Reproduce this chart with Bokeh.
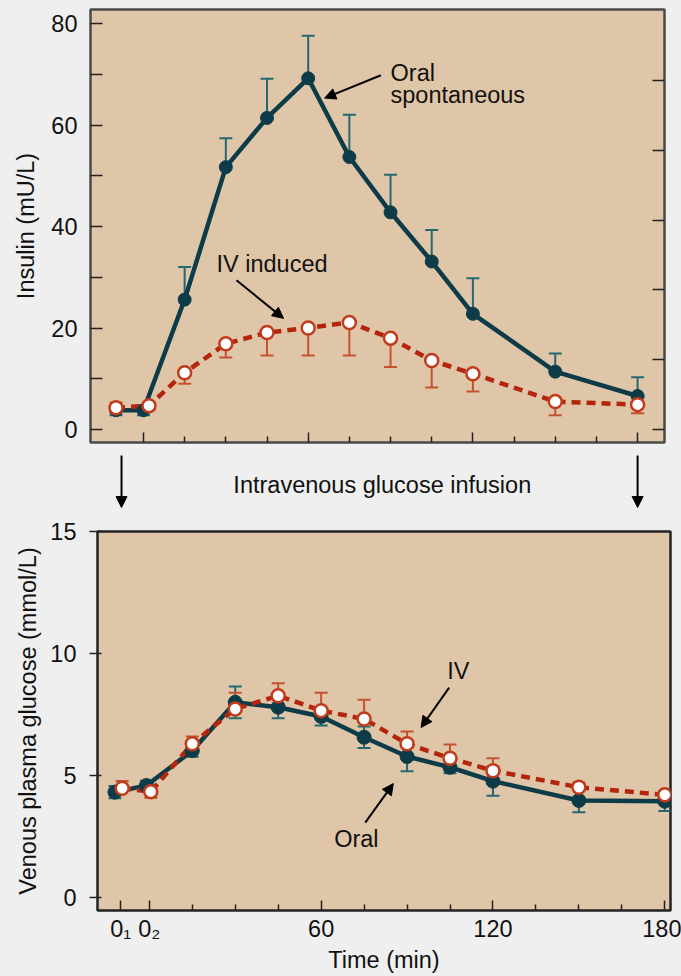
from jinja2 import Template
from bokeh.plotting import figure
from bokeh.models import Range1d, FixedTicker, LinearAxis, Arrow, NormalHead
from bokeh.embed import file_html
from bokeh.resources import INLINE
from bokeh.core.properties import value

# ---------------- data ----------------
# top panel: insulin (mU/L)
t_oral_ins = [-10, 0, 15, 30, 45, 60, 75, 90, 105, 120, 150, 180]
ins_oral = [3.8, 3.8, 25.6, 51.7, 61.4, 69.2, 53.7, 42.8, 33.1, 22.8, 11.4, 6.6]
ins_oral_hi = [0, 0, 6.4, 5.7, 7.7, 8.4, 8.3, 7.4, 6.2, 7.0, 3.6, 3.7]
ins_oral_lo = [1.0, 1.0, 0, 0, 0, 0, 0, 0, 0, 0, 0, 0]

t_iv_ins = [-10, 2, 15, 30, 45, 60, 75, 90, 105, 120, 150, 180]
ins_iv = [4.3, 4.7, 11.2, 16.9, 19.1, 20.0, 21.1, 18.0, 13.6, 11.0, 5.5, 4.9]
ins_iv_hi = [1.0, 0.6, 0, 0, 0, 0, 0, 0, 0, 0, 0, 0]
ins_iv_lo = [0.8, 0.8, 2.2, 2.7, 4.5, 5.4, 6.5, 5.7, 5.3, 3.5, 2.7, 1.7]

# bottom panel: venous plasma glucose (mmol/L)
t_oral_glu = [-12, -1, 15, 30, 45, 60, 75, 90, 105, 120, 150, 180]
glu_oral = [4.32, 4.59, 6.02, 8.0, 7.8, 7.42, 6.57, 5.78, 5.34, 4.77, 3.98, 3.95]
glu_oral_err = [0.25, 0.2, 0.25, 0.65, 0.45, 0.37, 0.44, 0.6, 0.25, 0.6, 0.48, 0.4]

t_iv_glu = [-9.5, 0.5, 15, 30, 45, 60, 75, 90, 105, 120, 150, 180]
glu_iv = [4.48, 4.34, 6.3, 7.73, 8.27, 7.66, 7.32, 6.3, 5.71, 5.2, 4.52, 4.21]
glu_iv_hi = [0.3, 0, 0.3, 0.66, 0.51, 0.73, 0.79, 0.5, 0.56, 0.51, 0.2, 0.17]
glu_iv_lo = [0, 0.25, 0, 0, 0, 0, 0, 0, 0, 0, 0, 0]

# axis ticks
ins_ticks = [0, 20, 40, 60, 80]
ins_minor = [10, 30, 50, 70]
ins_right_ticks = [0, 13.75, 27.5, 41.25, 55.0, 68.75]
glu_ticks = [0, 5, 10, 15]
time_major_top = [0, 60, 120, 180]
time_minor = [15, 30, 45, 75, 90, 105, 135, 150, 165]
time_major_bot = [-10, 0, 60, 120, 180]
time_labels = {-10: "0\u2081", 0: "0\u2082", 60: "60", 120: "120", 180: "180"}

infusion_times = [-8, 180]

# ---------------- style ----------------
FONT = "Liberation Sans"
FS = "23.5px"
BG = "#e0c6a8"
PAGE = "#efefef"
ORAL = "#0d3c48"
ORAL_ERR = "#24696f"
IV = "#b3250c"
IV_MK = "#c03c1c"
IV_ERR = "#c45230"
OUTLINE = "#4a4a4a"


def errbars(p, x, y, lo, hi, color):
    x0, y0, y1, cx, cy = [], [], [], [], []
    for xi, yi, l, h in zip(x, y, lo, hi):
        if l > 0 or h > 0:
            x0.append(xi)
            y0.append(yi - l)
            y1.append(yi + h)
        if h > 0:
            cx.append(xi)
            cy.append(yi + h)
        if l > 0:
            cx.append(xi)
            cy.append(yi - l)
    p.segment(x0=x0, y0=y0, x1=x0, y1=y1, line_color=color, line_width=2)
    p.scatter(x=cx, y=cy, marker="dash", size=13, line_color=color, line_width=2)


def style_axis(ax):
    ax.axis_line_color = None
    ax.major_tick_line_color = "#222222"
    ax.minor_tick_line_color = "#222222"
    ax.major_tick_line_width = 1.5
    ax.minor_tick_line_width = 1.5
    ax.major_label_text_font = FONT
    ax.major_label_text_font_size = FS
    ax.major_label_text_color = "#111111"
    ax.axis_label_text_font = FONT
    ax.axis_label_text_font_size = FS
    ax.axis_label_text_font_style = "normal"
    ax.axis_label_text_color = "#111111"


def hide_labels(ax):
    ax.major_label_text_color = None
    ax.major_label_text_font_size = "1px"
    ax.major_label_standoff = 0


def add_text(p, x, y, txt, align="left"):
    p.text(x=[x], y=[y], text=[txt], text_font=value(FONT), text_font_size=FS,
           text_color="#111111", text_align=align, text_baseline="middle")


def add_arrow(p, xs, ys, xe, ye):
    p.add_layout(Arrow(end=NormalHead(size=11, fill_color="black", line_color="black"),
                       x_start=xs, y_start=ys, x_end=xe, y_end=ye,
                       line_color="black", line_width=2))


# ---------------- top panel ----------------
xr_top = Range1d(-19.3, 189.8)
top = figure(frame_width=574, frame_height=433, x_range=xr_top, y_range=Range1d(-2.56, 82.76),
             output_backend="svg", toolbar_location=None,
             min_border_left=90, min_border_right=17, min_border_top=9, min_border_bottom=8,
             background_fill_color=BG, border_fill_color=PAGE,
             outline_line_color=OUTLINE, outline_line_width=2.5)
top.grid.visible = False

ya = top.yaxis[0]
style_axis(ya)
ya.ticker = FixedTicker(ticks=ins_ticks, minor_ticks=ins_minor)
ya.major_tick_in = 12
ya.major_tick_out = 0
ya.minor_tick_in = 12
ya.minor_tick_out = 0
ya.major_label_standoff = 13
ya.axis_label = "Insulin (mU/L)"
ya.axis_label_standoff = 9

xa = top.xaxis[0]
style_axis(xa)
xa.ticker = FixedTicker(ticks=time_major_top, minor_ticks=time_minor)
xa.major_tick_in = 10
xa.major_tick_out = 0
xa.minor_tick_in = 6
xa.minor_tick_out = 0
hide_labels(xa)

ra = LinearAxis(ticker=FixedTicker(ticks=ins_right_ticks))
style_axis(ra)
ra.major_tick_in = 12
ra.major_tick_out = 0
ra.minor_tick_line_color = None
hide_labels(ra)
top.add_layout(ra, "right")

errbars(top, t_oral_ins, ins_oral, ins_oral_lo, ins_oral_hi, ORAL_ERR)
errbars(top, t_iv_ins, ins_iv, ins_iv_lo, ins_iv_hi, IV_ERR)
top.line(t_oral_ins, ins_oral, line_color=ORAL, line_width=4.5)
top.line(t_iv_ins, ins_iv, line_color=IV, line_width=4.5, line_dash="9 6")
top.scatter(t_oral_ins, ins_oral, size=13, fill_color=ORAL, line_color=ORAL)
top.scatter(t_iv_ins, ins_iv, size=13, fill_color="white", line_color=IV_MK, line_width=2.5)

add_text(top, 90, 70.3, "Oral")
add_text(top, 90, 66.0, "spontaneous")
add_arrow(top, 86.5, 69.8, 66.0, 65.3)
add_text(top, 26.6, 32.7, "IV induced")
add_arrow(top, 33.9, 29.4, 51.0, 21.9)

# ---------------- middle strip ----------------
MID_H = 65
mid = figure(frame_width=574, frame_height=MID_H, x_range=xr_top, y_range=Range1d(MID_H, 0),
             output_backend="svg", toolbar_location=None,
             min_border_left=90, min_border_right=17, min_border_top=0, min_border_bottom=0,
             background_fill_color=PAGE, border_fill_color=PAGE, outline_line_color=None)
mid.axis.visible = False
mid.grid.visible = False
for t in infusion_times:
    add_arrow(mid, t, 5, t, 57)
add_text(mid, 87, 34, "Intravenous glucose infusion", align="center")

# ---------------- bottom panel ----------------
bot = figure(frame_width=573, frame_height=379, x_range=Range1d(-18.1, 182.0),
             y_range=Range1d(-0.53, 15.0),
             output_backend="svg", toolbar_location=None,
             min_border_left=97, min_border_right=11, min_border_top=16, min_border_bottom=0,
             background_fill_color=BG, border_fill_color=PAGE,
             outline_line_color="#222222", outline_line_width=2.5)
bot.grid.visible = False

yb = bot.yaxis[0]
style_axis(yb)
yb.ticker = FixedTicker(ticks=glu_ticks)
yb.major_tick_in = 4
yb.major_tick_out = 8
yb.minor_tick_line_color = None
yb.major_label_standoff = 13
yb.axis_label = "Venous plasma glucose (mmol/L)"
yb.axis_label_standoff = 6

xb = bot.xaxis[0]
style_axis(xb)
xb.ticker = FixedTicker(ticks=time_major_bot, minor_ticks=time_minor)
xb.major_label_overrides = time_labels
xb.major_tick_in = 10
xb.major_tick_out = 0
xb.minor_tick_in = 6
xb.minor_tick_out = 0
xb.major_label_standoff = 5
xb.axis_label = "Time (min)"
xb.axis_label_standoff = 2

errbars(bot, t_oral_glu, glu_oral, glu_oral_err, glu_oral_err, ORAL_ERR)
errbars(bot, t_iv_glu, glu_iv, glu_iv_lo, glu_iv_hi, IV_ERR)
bot.line(t_oral_glu, glu_oral, line_color=ORAL, line_width=4.5)
bot.line(t_iv_glu, glu_iv, line_color=IV, line_width=4.5, line_dash="9 6")
bot.scatter(t_oral_glu, glu_oral, size=14, fill_color=ORAL, line_color=ORAL)
bot.scatter(t_iv_glu, glu_iv, size=13, fill_color="white", line_color=IV_MK, line_width=2.5)

add_text(bot, 107.9, 9.3, "IV", align="center")
add_arrow(bot, 104.7, 8.6, 94.9, 6.97)
add_text(bot, 72.3, 2.42, "Oral", align="center")
add_arrow(bot, 75.4, 3.07, 85.2, 4.67)

# page background matching the figure surround
page_template = Template("""{% extends base %}
{% block preamble %}{{ super() }}<style>html, body { background: #efefef; }</style>{% endblock %}
""")

# separate roots stacked on the page (keeps each panel's own frame position)
open("out.html", "w").write(file_html([top, mid, bot], INLINE, template=page_template))
